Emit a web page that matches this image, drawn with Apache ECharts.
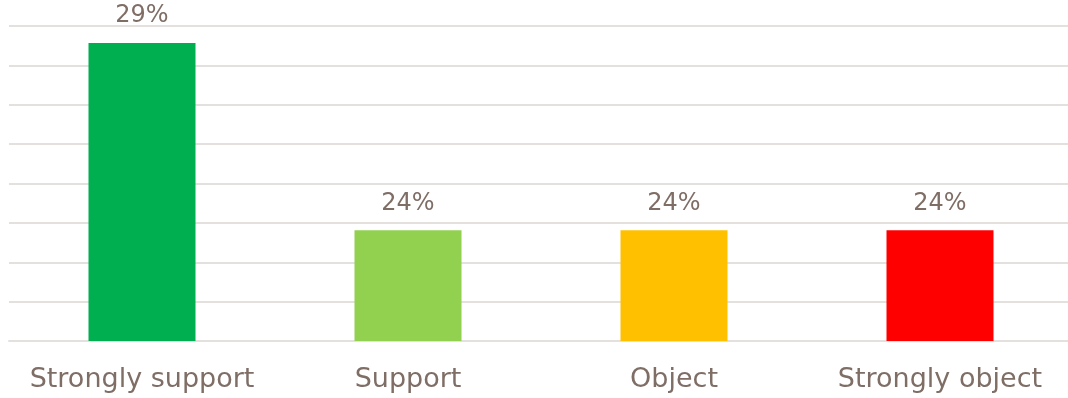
<!DOCTYPE html>
<html>
<head>
<meta charset="utf-8">
<style>
  html, body { margin: 0; padding: 0; background: #ffffff; }
  #chart { width: 1068px; height: 398px; }
</style>
<script src="https://cdn.jsdelivr.net/npm/echarts@6/dist/echarts.min.js"></script>
</head>
<body>
<div id="chart"></div>
<script>
// Share of responses per position (percent)
const categories = ['Strongly support', 'Support', 'Object', 'Strongly object'];
const shares = [28.57, 23.81, 23.81, 23.81];
const barColors = ['#00B050', '#92D050', '#FFC000', '#FF0000'];

const textColor = '#7f6e66';
const gridColor = '#e4e0dd';
const fontFamily = '"DejaVu Sans", "Liberation Sans", Arial, sans-serif';

const chart = echarts.init(document.getElementById('chart'), null, { renderer: 'canvas' });

chart.setOption({
  animation: false,
  grid: {
    left: 9, top: 26, width: 1064, height: 315,
    containLabel: false,
    outerBoundsMode: 'none'
  },
  xAxis: {
    type: 'category',
    data: categories,
    axisTick: { show: false },
    axisLine: { show: true, lineStyle: { color: gridColor, width: 2 } },
    axisLabel: {
      color: textColor,
      fontFamily: fontFamily,
      fontSize: 27,
      margin: 25,
      interval: 0
    }
  },
  yAxis: {
    type: 'value',
    min: 21,
    max: 29,
    interval: 1,
    axisLabel: { show: false },
    axisLine: { show: false },
    axisTick: { show: false },
    splitLine: { show: true, lineStyle: { color: gridColor, width: 2 } }
  },
  series: [{
    type: 'bar',
    barWidth: 107,
    data: shares.map((v, i) => ({ value: v, itemStyle: { color: barColors[i] } })),
    label: {
      show: true,
      position: 'top',
      distance: 15,
      color: textColor,
      fontFamily: fontFamily,
      fontSize: 24,
      formatter: p => Math.round(p.value) + '%'
    }
  }]
});
</script>
</body>
</html>
